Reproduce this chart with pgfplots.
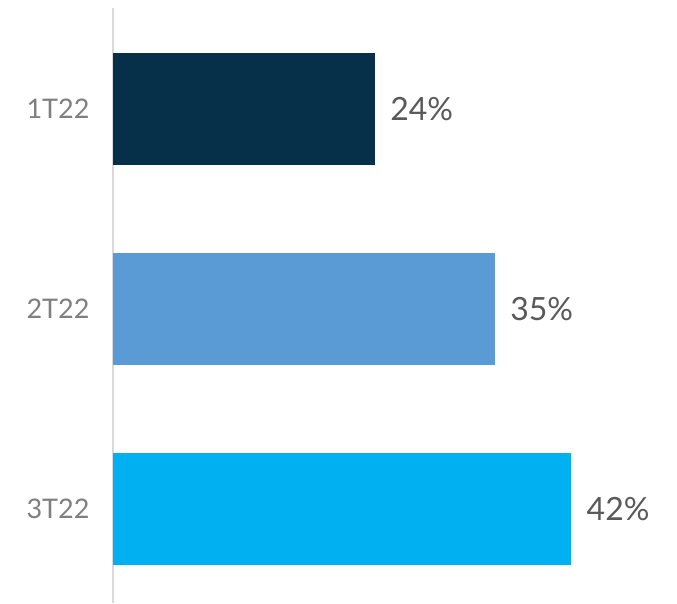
\documentclass[border=0pt]{standalone}
\usepackage{pgfplots}
\pgfplotsset{compat=1.18}
\usepackage{fontspec}
\setmainfont{Lato}
\definecolor{barA}{HTML}{06304A}
\definecolor{barB}{HTML}{5B9BD5}
\definecolor{barC}{HTML}{00B0F0}
\definecolor{axisgray}{HTML}{D9D9D9}
\definecolor{ticktext}{HTML}{7F7F7F}
\definecolor{valtext}{HTML}{595959}
\begin{document}
\begin{tikzpicture}[x=1pt,y=1pt]
\begin{axis}[
    at={(113pt,0pt)}, anchor=south west,
    scale only axis,
    width=564pt, height=595pt,
    xbar, bar width=112pt, bar shift=0pt,
    xmin=0, xmax=51.7,
    ymin=-0.47, ymax=2.505,
    axis x line=none,
    axis y line*=left,
    y axis line style={draw=axisgray, line width=1.5pt},
    ytick={0,1,2},
    yticklabels={3T22,2T22,1T22},
    major tick length=0pt,
    yticklabel style={font=\fontsize{27}{31}\selectfont, text=ticktext, xshift=-20pt},
    point meta=x,
    nodes near coords={\pgfmathprintnumber[assume math mode=true]{\pgfplotspointmeta}\%},
    every node near coord/.append style={font=\fontsize{32}{36}\selectfont, text=valtext, anchor=west, xshift=12pt},
]
\addplot[draw=none, fill=barA] coordinates {(24,2)};
\addplot[draw=none, fill=barB] coordinates {(35,1)};
\addplot[draw=none, fill=barC] coordinates {(42,0)};
\end{axis}
\pgfresetboundingbox
\useasboundingbox (0,0) rectangle (677,603);
\end{tikzpicture}
\end{document}
